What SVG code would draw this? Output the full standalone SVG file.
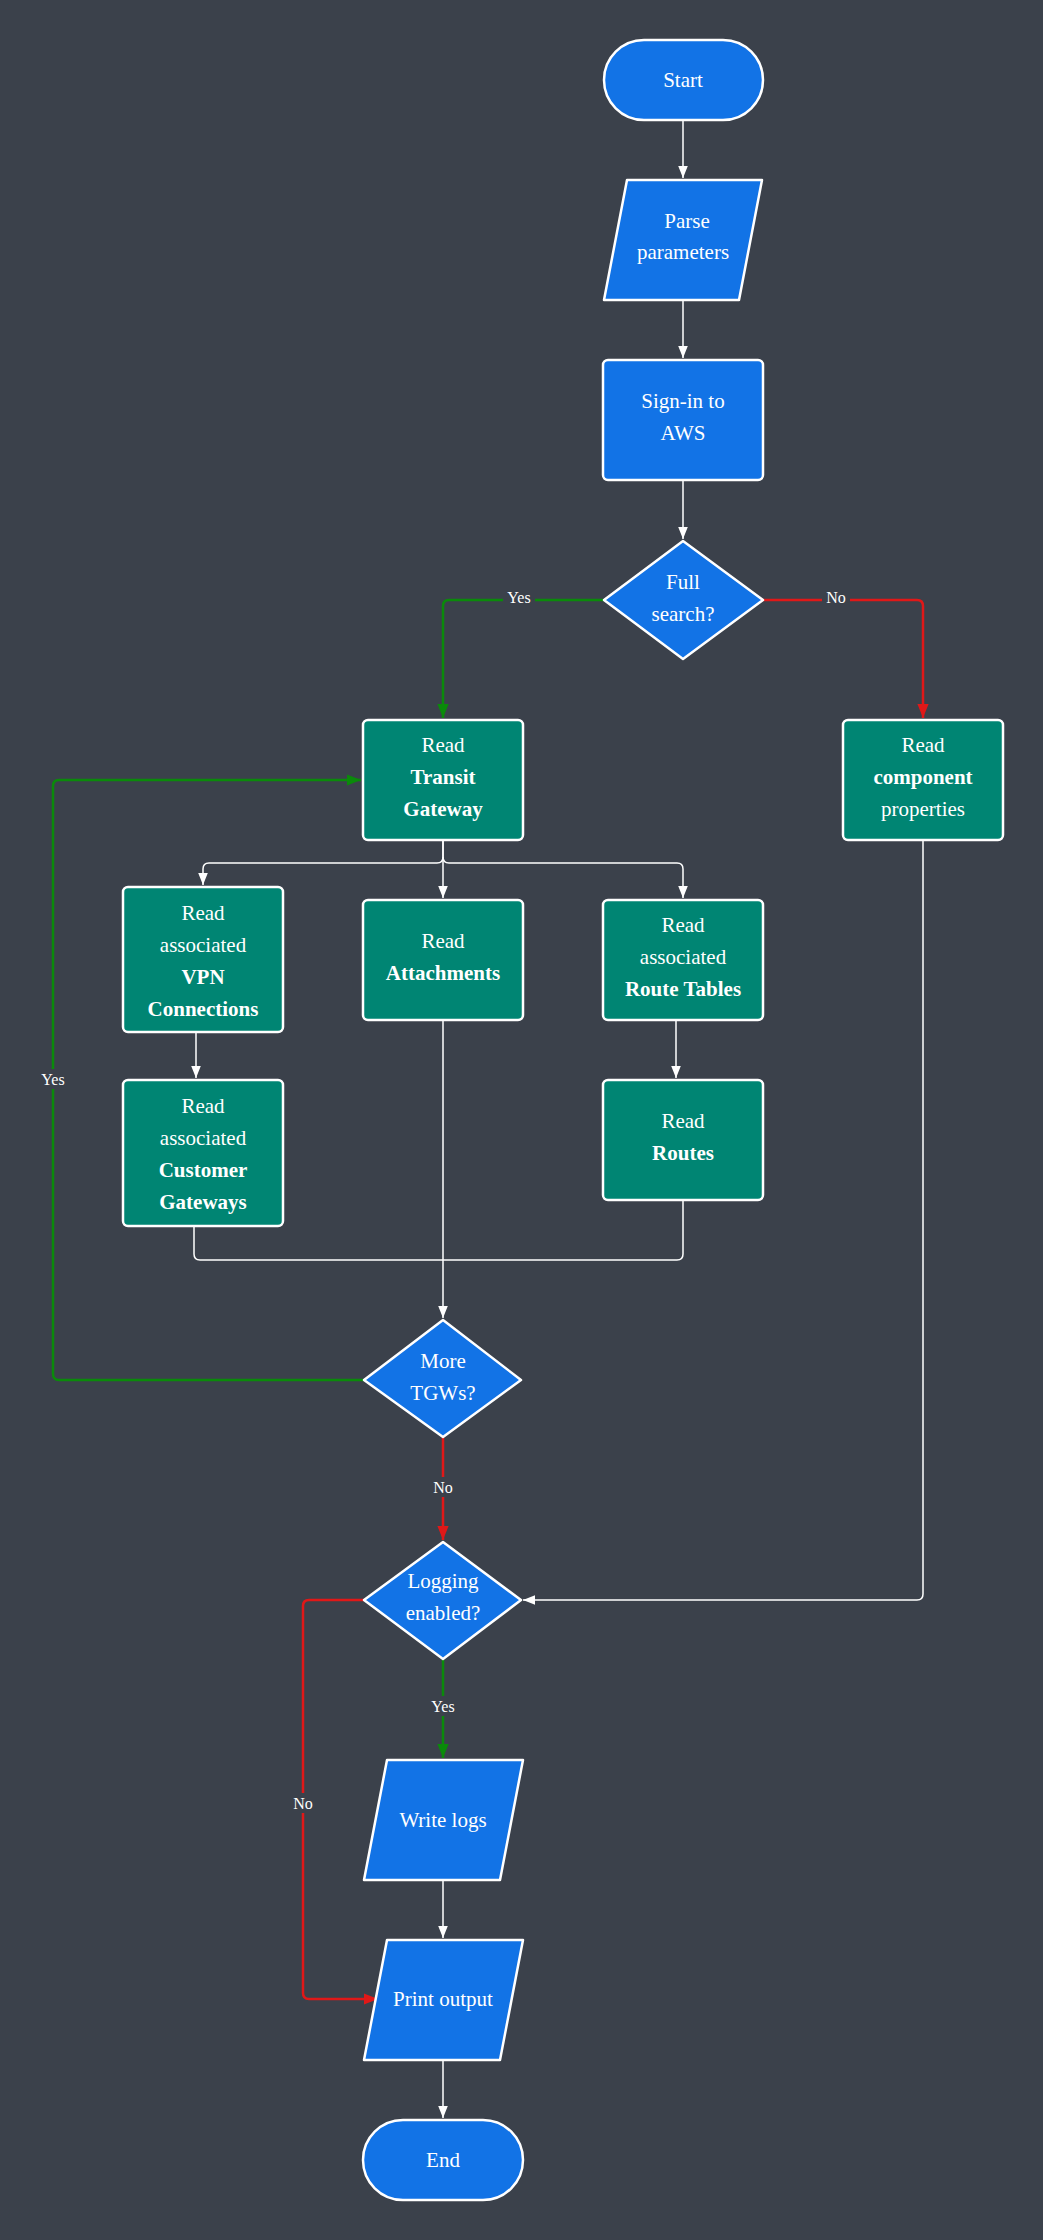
<svg xmlns="http://www.w3.org/2000/svg" width="1043" height="2240" viewBox="0 0 1043 2240">
<defs>
<style>
.b{fill:#1273e6;stroke:#fff;stroke-width:2.5}
.t{fill:#008573;stroke:#fff;stroke-width:2.5}
text{font-family:"Liberation Serif",serif;font-size:21px;fill:#fff;text-anchor:middle}
.bd{font-weight:bold}
.lb{font-size:16px}
.w{fill:none;stroke:#fff;stroke-width:1.5}
.g{fill:none;stroke:#0a8a0a;stroke-width:2.5}
.r{fill:none;stroke:#e01818;stroke-width:2.5}
</style>
<marker id="aw" viewBox="0 0 10 10" refX="10" refY="5" markerWidth="12" markerHeight="12" markerUnits="userSpaceOnUse" orient="auto"><path d="M0,1L10,5L0,9z" fill="#fff"/></marker>
<marker id="ag" viewBox="0 0 10 10" refX="10" refY="5" markerWidth="14" markerHeight="14" markerUnits="userSpaceOnUse" orient="auto"><path d="M0,1L10,5L0,9z" fill="#0a8a0a"/></marker>
<marker id="ar" viewBox="0 0 10 10" refX="10" refY="5" markerWidth="14" markerHeight="14" markerUnits="userSpaceOnUse" orient="auto"><path d="M0,1L10,5L0,9z" fill="#e01818"/></marker>
</defs>
<rect width="1043" height="2240" fill="#3b414b"/>
<g id="connectors">
<path class="w" d="M683,120V178" marker-end="url(#aw)"/>
<path class="w" d="M683,300V358" marker-end="url(#aw)"/>
<path class="w" d="M683,480V539" marker-end="url(#aw)"/>
<path class="g" d="M604,600H449Q443,600 443,606V718" marker-end="url(#ag)"/>
<path class="r" d="M763,600H917Q923,600 923,606V718" marker-end="url(#ar)"/>
<path class="w" d="M443,840V857Q443,863 437,863H209Q203,863 203,869V885" marker-end="url(#aw)"/>
<path class="w" d="M443,840V898" marker-end="url(#aw)"/>
<path class="w" d="M443,857Q443,863 449,863H677Q683,863 683,869V898" marker-end="url(#aw)"/>
<path class="w" d="M196,1032V1078" marker-end="url(#aw)"/>
<path class="w" d="M676,1020V1078" marker-end="url(#aw)"/>
<path class="w" d="M194,1226V1254Q194,1260 200,1260H677Q683,1260 683,1254V1200"/>
<path class="w" d="M443,1020V1318" marker-end="url(#aw)"/>
<path class="g" d="M364,1380H59Q53,1380 53,1374V786Q53,780 59,780H361" marker-end="url(#ag)"/>
<path class="r" d="M443,1437V1540" marker-end="url(#ar)"/>
<path class="w" d="M923,840V1594Q923,1600 917,1600H523" marker-end="url(#aw)"/>
<path class="g" d="M443,1659V1758" marker-end="url(#ag)"/>
<path class="r" d="M364,1600H309Q303,1600 303,1606V1993Q303,1999 309,1999H378" marker-end="url(#ar)"/>
<path class="w" d="M443,1880V1938" marker-end="url(#aw)"/>
<path class="w" d="M443,2060V2118" marker-end="url(#aw)"/>
<rect x="503" y="587" width="32" height="20" fill="#3b414b"/>
<text class="lb" x="519" y="603">Yes</text>
<rect x="822" y="587" width="28" height="20" fill="#3b414b"/>
<text class="lb" x="836" y="603">No</text>
<rect x="37" y="1069" width="32" height="20" fill="#3b414b"/>
<text class="lb" x="53" y="1085">Yes</text>
<rect x="429" y="1477" width="28" height="20" fill="#3b414b"/>
<text class="lb" x="443" y="1493">No</text>
<rect x="427" y="1696" width="32" height="20" fill="#3b414b"/>
<text class="lb" x="443" y="1712">Yes</text>
<rect x="289" y="1793" width="28" height="20" fill="#3b414b"/>
<text class="lb" x="303" y="1809">No</text>
</g>
<g id="start"><rect class="b" x="604" y="40" width="159" height="80" rx="40"/><text x="683" y="87">Start</text></g>
<g id="parse"><path class="b" d="M627,180H762L739,300H604z" stroke-linejoin="round"/><text x="687" y="228">Parse</text><text x="683" y="259">parameters</text></g>
<g id="signin"><rect class="b" x="603" y="360" width="160" height="120" rx="5"/><text x="683" y="408">Sign-in to</text><text x="683" y="440">AWS</text></g>
<g id="full"><path class="b" d="M683,541L763,600L683,659L604,600z" stroke-linejoin="round"/><text x="683" y="589">Full</text><text x="683" y="621">search?</text></g>
<g id="tgw"><rect class="t" x="363" y="720" width="160" height="120" rx="5"/><text x="443" y="752">Read</text><text class="bd" x="443" y="784">Transit</text><text class="bd" x="443" y="816">Gateway</text></g>
<g id="comp"><rect class="t" x="843" y="720" width="160" height="120" rx="5"/><text x="923" y="752">Read</text><text class="bd" x="923" y="784">component</text><text x="923" y="816">properties</text></g>
<g id="vpn"><rect class="t" x="123" y="887" width="160" height="145" rx="5"/><text x="203" y="920">Read</text><text x="203" y="952">associated</text><text class="bd" x="203" y="984">VPN</text><text class="bd" x="203" y="1016">Connections</text></g>
<g id="att"><rect class="t" x="363" y="900" width="160" height="120" rx="5"/><text x="443" y="948">Read</text><text class="bd" x="443" y="980">Attachments</text></g>
<g id="rt"><rect class="t" x="603" y="900" width="160" height="120" rx="5"/><text x="683" y="932">Read</text><text x="683" y="964">associated</text><text class="bd" x="683" y="996">Route Tables</text></g>
<g id="cgw"><rect class="t" x="123" y="1080" width="160" height="146" rx="5"/><text x="203" y="1113">Read</text><text x="203" y="1145">associated</text><text class="bd" x="203" y="1177">Customer</text><text class="bd" x="203" y="1209">Gateways</text></g>
<g id="routes"><rect class="t" x="603" y="1080" width="160" height="120" rx="5"/><text x="683" y="1128">Read</text><text class="bd" x="683" y="1160">Routes</text></g>
<g id="more"><path class="b" d="M443,1320L521,1380L443,1437L364,1380z" stroke-linejoin="round"/><text x="443" y="1368">More</text><text x="443" y="1400">TGWs?</text></g>
<g id="logging"><path class="b" d="M443,1542L521,1600L443,1659L364,1600z" stroke-linejoin="round"/><text x="443" y="1588">Logging</text><text x="443" y="1620">enabled?</text></g>
<g id="write"><path class="b" d="M387,1760H523L500,1880H364z" stroke-linejoin="round"/><text x="443" y="1827">Write logs</text></g>
<g id="print"><path class="b" d="M387,1940H523L500,2060H364z" stroke-linejoin="round"/><text x="443" y="2006">Print output</text></g>
<g id="end"><rect class="b" x="363" y="2120" width="160" height="80" rx="40"/><text x="443" y="2167">End</text></g>
</svg>
